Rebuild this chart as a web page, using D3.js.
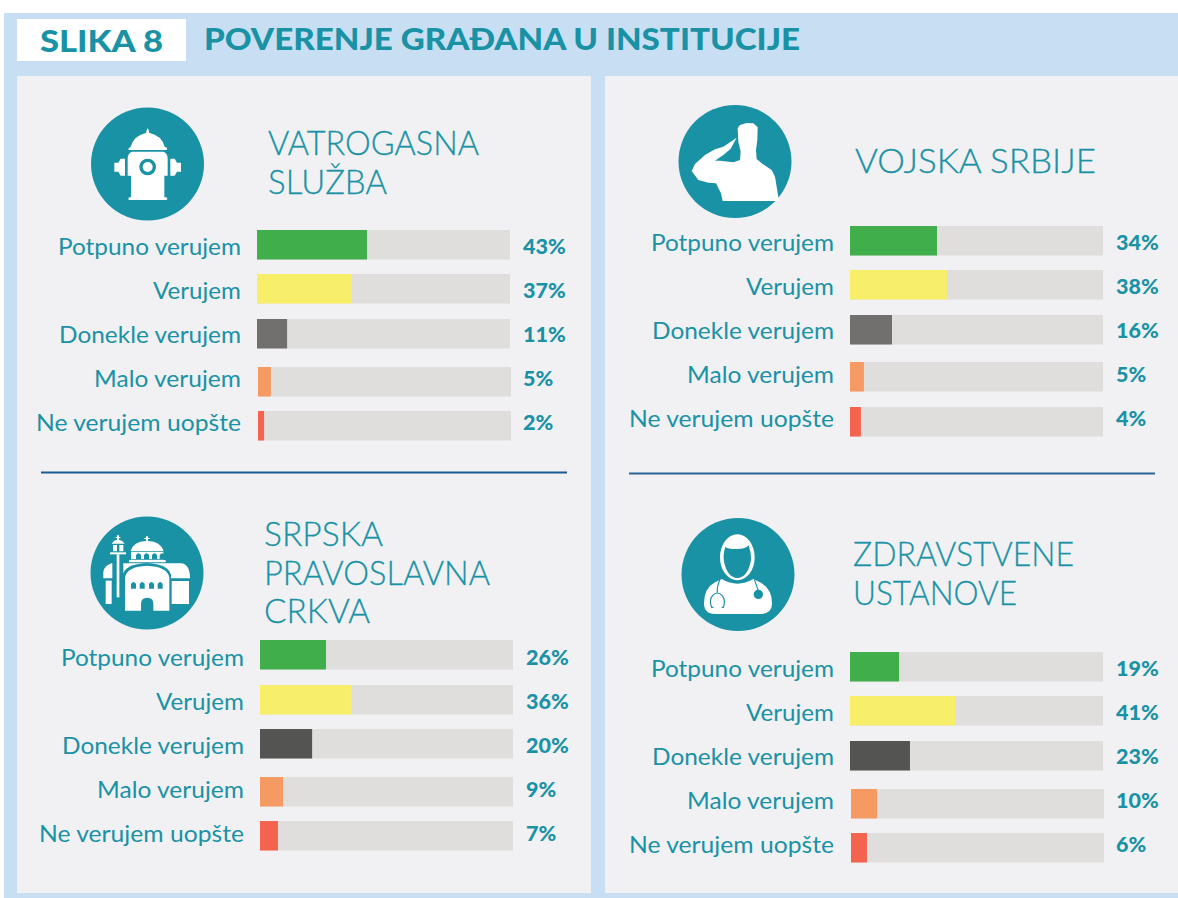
<!DOCTYPE html>
<html><head><meta charset="utf-8">
<script src="https://cdn.jsdelivr.net/npm/d3@7"></script>
<style>html,body{margin:0;padding:0;background:#fff}svg{display:block}text{font-family:Lato,sans-serif}</style>
</head><body><svg id="c" width="1178" height="898"></svg>
<script>
const figureTag = "SLIKA 8";
const figureTitle = "POVERENJE GRAĐANA U INSTITUCIJE";
const answers = ["Potpuno verujem","Verujem","Donekle verujem","Malo verujem","Ne verujem uopšte"];
const axisMax = 100;

const fireTitle = ["VATROGASNA","SLUŽBA"];
const fireLabels = [43,37,11,5,2];
const fireBars = [43.5,37.4,11.9,5.1,2.4];

const armyTitle = ["VOJSKA SRBIJE"];
const armyLabels = [34,38,16,5,4];
const armyBars = [34.4,38.3,16.6,5.5,4.3];

const churchTitle = ["SRPSKA","PRAVOSLAVNA","CRKVA"];
const churchLabels = [26,36,20,9,7];
const churchBars = [26.1,36.2,20.6,9.1,7.1];

const healthTitle = ["ZDRAVSTVENE","USTANOVE"];
const healthLabels = [19,41,23,10,6];
const healthBars = [19.4,41.5,23.7,10.3,6.3];

const TEAL="#1a92a6", PANEL="#f1f1f4", BG="#c8dff3", TRACK="#dfdedc", WHITE="#fff";
const lightColors=["#40ae4b","#f7ef6a","#72706e","#f59a62","#f3634d"];
const darkColors =["#40ae4b","#f7ef6a","#545452","#f59a62","#f3634d"];
const answerWidths=[183,88,182,147,205];

const svg=d3.select("#c");
svg.append("rect").attr("x",4).attr("y",13).attr("width",1174).attr("height",885).attr("fill",BG);
svg.append("rect").attr("x",17).attr("y",76).attr("width",574).attr("height",817).attr("fill",PANEL);
svg.append("rect").attr("x",605).attr("y",76).attr("width",573).attr("height",817).attr("fill",PANEL);
svg.append("rect").attr("x",17).attr("y",19).attr("width",169).attr("height",42).attr("fill",WHITE);
svg.append("text").attr("x",40).attr("y",52).attr("fill",TEAL)
  .attr("font-weight",900).attr("font-size",31).attr("textLength",123).attr("lengthAdjust","spacingAndGlyphs").text(figureTag);
svg.append("text").attr("x",204).attr("y",50).attr("fill",TEAL)
  .attr("font-weight",900).attr("font-size",30).attr("textLength",596).attr("lengthAdjust","spacingAndGlyphs").text(figureTitle);

[[41,567,472.5,"#1b5a94"],[629,1155,473.5,"#2a6497"]].forEach(([a,b,y,c])=>
  svg.append("line").attr("x1",a).attr("x2",b).attr("y1",y).attr("y2",y).attr("stroke",c).attr("stroke-width",2));

function panel(o){
  const g=svg.append("g");
  g.selectAll("text.h").data(o.title).join("text").attr("class","h")
    .attr("x",o.tx).attr("y",(d,i)=>o.ty+i*o.tl).attr("fill",TEAL).attr("font-weight",300)
    .attr("stroke",TEAL).attr("stroke-width",0.3)
    .attr("font-size",33).attr("textLength",(d,i)=>o.tw[i]).attr("lengthAdjust","spacingAndGlyphs").text(d=>d);
  g.append("circle").attr("cx",o.cx).attr("cy",o.cy).attr("r",56.5).attr("fill",TEAL);
  o.icon(g.append("g").attr("transform",`translate(${o.ix},${o.iy}) scale(${1/3})`));
  const x=d3.scaleLinear().domain([0,axisMax]).range([0,253]);
  const rows=answers.map((a,i)=>({a,i,bar:o.bars[i],label:o.labels[i],top:o.ys[i],x0:o.x0+(i>=3?o.shift:0),c:o.colors[i]}));
  g.selectAll("rect.t").data(rows).join("rect").attr("class","t").attr("x",d=>d.x0).attr("y",d=>d.top)
    .attr("width",x(axisMax)).attr("height",29.5).attr("fill",TRACK);
  g.selectAll("rect.b").data(rows).join("rect").attr("class","b").attr("x",d=>d.x0).attr("y",d=>d.top)
    .attr("width",d=>x(d.bar)).attr("height",29.5).attr("fill",d=>d.c);
  g.selectAll("text.a").data(rows).join("text").attr("class","a")
    .attr("x",o.x0-16).attr("y",d=>o.base+44*d.i).attr("text-anchor","end").attr("fill",TEAL)
    .attr("font-weight",400).attr("font-size",24)
    .attr("textLength",d=>answerWidths[d.i]).attr("lengthAdjust","spacingAndGlyphs").text(d=>d.a);
  g.selectAll("text.v").data(rows).join("text").attr("class","v")
    .attr("x",o.x0+266).attr("y",d=>o.base-1+44*d.i).attr("fill",TEAL)
    .attr("font-weight",900).attr("font-size",21.5).text(d=>d.label+"%");
}
const P=(g,d,f=WHITE)=>g.append("path").attr("d",d).attr("fill",f);

function hydrant(g){
  P(g,"M233,55 Q238,60 237,68 Q275,76 284,110 L291,113 V118 Q290,120 288,120 H178 Q175,120 175,116 L182,110 Q192,76 229,68 Q228,60 233,55Z");
  P(g,"M186,125 H280 Q293,130 293,145 V197 H283 V262 H288 Q292,263 292,267 Q291,270 288,270 H178 Q175,270 175,266 Q175,263 179,262 H183 V197 H173 V145 Q173,130 186,125Z");
  P(g,"M152,146 H165 V197 H152 L145,185 H133 V158 H145Z");
  P(g,"M314,146 H301 V197 H314 L321,185 H333 V158 H321Z");
  g.append("circle").attr("cx",233).attr("cy",171).attr("r",20).attr("fill",WHITE).attr("stroke",TEAL).attr("stroke-width",10);
}
function soldier(g){
  P(g,"M293,115 L300,105 L320,99 L340,100 L353,112 L352,150 L348,180 L350,207 L365,220 L395,240 L405,260 L417,333 H248 L243,310 L228,280 L205,278 L175,270 L155,243 L165,222 L195,195 L225,178 L250,170 L290,143 L272,176 L250,195 L225,212 L240,212 L280,217 L300,210 L302,185 L295,155Z");
}
function church(g){
  P(g,"M100,234 V215 Q105,195 125,190 H335 Q360,195 360,235 H100Z");
  P(g,"M107,242 H125 V312 H107Z");
  P(g,"M305,243 H357 V312 H305Z");
  P(g,"M177,180 H287 V187 H177Z");
  P(g,"M183,155 H280 V178 H183Z");
  P(g,"M182,153 Q190,125 228,123 V117 H223 V114 H228 V109 H234 V114 H239 V117 H234 V123 Q272,125 281,153Z");
  [198,222,246,269].forEach(x=>P(g,`M${x},178 V165 Q${x+7.5},155 ${x+15},165 V178Z`,TEAL));
  P(g,"M127,163 H160 V300 H127Z",TEAL);
  P(g,"M125,131 Q130,121 141,119 V114 H137 V111 H141 V106 H147 V111 H151 V114 H147 V119 Q158,121 164,131Z");
  P(g,"M120,157 H168 V163 H120Z");
  P(g,"M129,135 H141 V154 H129Z M148,135 H160 V154 H148Z");
  P(g,"M140,163 H148 V292 H140Z");
  P(g,"M158,338 V225 Q165,192 230,189 Q296,192 303,225 V338Z",TEAL);
  P(g,"M165,332 V232 Q170,200 232,197 Q292,200 298,232 V332 H250 V312 Q250,293 232,293 Q213,293 213,312 V332Z");
  [183,209,237,263].forEach(x=>P(g,`M${x},266 V252 Q${x+7.5},240 ${x+15},252 V266Z`,TEAL));
}
function doctor(g){
  P(g,"M132,310 Q132,265 165,247 L185,237 Q232,265 280,237 L300,247 Q336,265 336,310 Q336,342 300,342 H165 Q132,342 132,310Z");
  g.append("ellipse").attr("cx",232).attr("cy",172).attr("rx",52).attr("ry",69).attr("fill",WHITE);
  P(g,"M196,140 Q200,147 232,147 Q258,147 266,136 Q276,170 272,185 Q262,232 232,234 Q202,232 192,185 Q188,165 196,140Z",TEAL);
  g.append("path").attr("d","M180,238 Q170,262 172,278 M160,322 L155,322 Q146,300 158,286 Q172,272 186,286 Q198,300 190,322 L185,322 M283,238 L295,272")
    .attr("fill","none").attr("stroke",TEAL).attr("stroke-width",3.5);
  g.append("circle").attr("cx",295).attr("cy",283).attr("r",14).attr("fill",TEAL);
}

panel({title:fireTitle,tx:268,ty:155,tl:39,tw:[211,119],cx:147.5,cy:164,ix:70,iy:110,icon:hydrant,bars:fireBars,labels:fireLabels,
  x0:257,shift:1,ys:[230,274,319,367,411],base:255,colors:lightColors});
panel({title:armyTitle,tx:855,ty:173,tl:39,tw:[241],cx:735,cy:161.5,ix:640,iy:90,icon:soldier,bars:armyBars,labels:armyLabels,
  x0:850,shift:0,ys:[226,270,315,362,407],base:251,colors:lightColors});
panel({title:churchTitle,tx:264,ty:546,tl:38.5,tw:[119,226,106],cx:147,cy:573,ix:70,iy:500,icon:church,bars:churchBars,labels:churchLabels,
  x0:260,shift:0,ys:[640,685,729,777,821],base:666,colors:darkColors});
panel({title:healthTitle,tx:853,ty:566,tl:39,tw:[221,164],cx:738,cy:574.5,ix:660,iy:500,icon:doctor,bars:healthBars,labels:healthLabels,
  x0:850,shift:1,ys:[652,696,741,789,833],base:677,colors:darkColors});
</script></body></html>
